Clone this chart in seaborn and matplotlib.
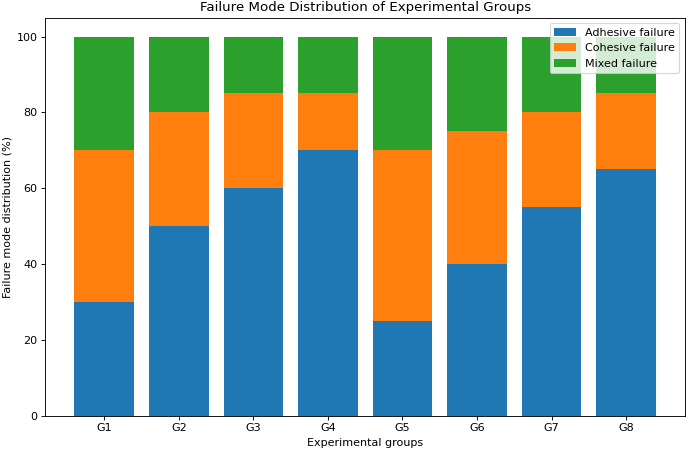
import matplotlib
matplotlib.use("Agg")
import matplotlib.pyplot as plt
import pandas as pd
import seaborn as sns

groups = ["G1", "G2", "G3", "G4", "G5", "G6", "G7", "G8"]
adhesive = [30, 50, 60, 70, 25, 40, 55, 65]
cohesive = [40, 30, 25, 15, 45, 35, 25, 20]
mixed = [30, 20, 15, 15, 30, 25, 20, 15]

df = pd.DataFrame({"group": groups, "adhesive": adhesive,
                   "cohesive": cohesive, "mixed": mixed})
# cumulative tops, drawn back to front so each layer shows as a stack
df["top_coh"] = df["adhesive"] + df["cohesive"]
df["top_mix"] = df["top_coh"] + df["mixed"]

fig, ax = plt.subplots(figsize=(8.625, 5.6375), dpi=80)
sns.barplot(data=df, x="group", y="top_mix", color="#2ca02c", saturation=1,
            width=0.8, ax=ax, label="Mixed failure")
sns.barplot(data=df, x="group", y="top_coh", color="#ff7f0e", saturation=1,
            width=0.8, ax=ax, label="Cohesive failure")
sns.barplot(data=df, x="group", y="adhesive", color="#1f77b4", saturation=1,
            width=0.8, ax=ax, label="Adhesive failure")

# plain matplotlib-like margins on the category axis
n = len(groups)
pad = 0.05 * (n - 1 + 0.8)
ax.set_xlim(-0.4 - pad, n - 1 + 0.4 + pad)
ax.set_ylim(0, 105)

h, l = ax.get_legend_handles_labels()
ax.legend(h[::-1], l[::-1], loc="upper right")
ax.set_title("Failure Mode Distribution of Experimental Groups")
ax.set_xlabel("Experimental groups")
ax.set_ylabel("Failure mode distribution (%)")
plt.subplots_adjust(left=0.0657, right=0.9928, bottom=0.0783, top=0.961)
plt.savefig("out.png", dpi=80)
